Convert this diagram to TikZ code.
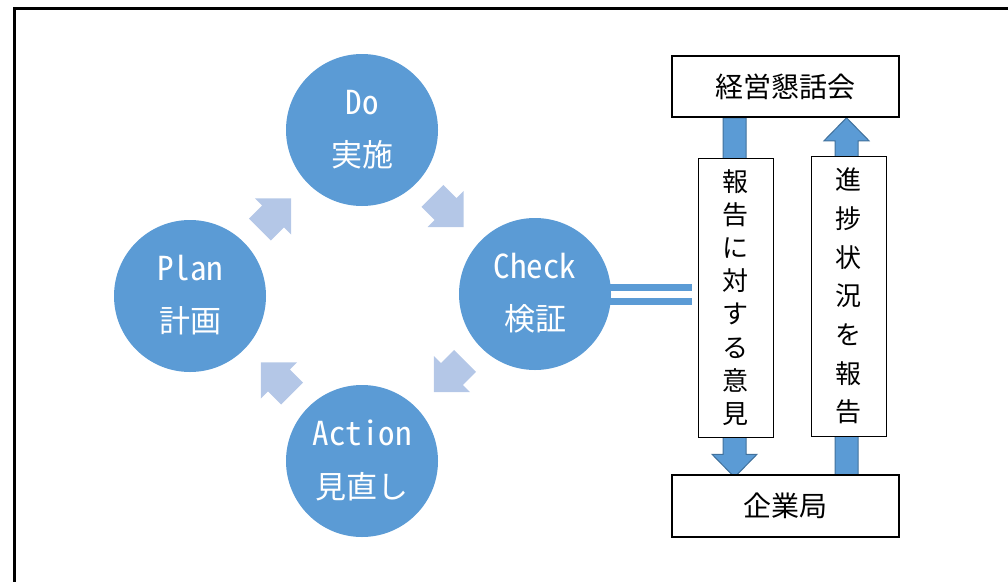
\documentclass[tikz,border=0pt]{standalone}
\usepackage{fontspec}
\setmainfont{Noto Sans CJK JP}
\newfontfamily\hw[RawFeature=+hwid]{Noto Sans CJK JP}
\usetikzlibrary{calc,backgrounds}
\definecolor{cb}{RGB}{91,155,213}
\definecolor{cl}{RGB}{180,199,231}
\definecolor{ce}{RGB}{65,113,156}
\begin{document}
\begin{tikzpicture}[x=1pt,y=-1pt,
  ph/.style={circle,fill=cb,minimum size=152pt,inner sep=0pt},
  lt/.style={text=white,font=\hw\fontsize{33}{33}\selectfont,anchor=base,inner sep=0pt},
  jp/.style={text=white,font=\fontsize{31}{31}\selectfont,anchor=base,inner sep=0pt},
  bx/.style={draw=black,line width=1.5pt,fill=white,minimum width=227pt,minimum height=61pt,inner sep=0pt,font=\fontsize{28}{28}\selectfont},
  vb/.style={draw=black,line width=1pt,fill=white,minimum width=75pt,minimum height=279pt,inner sep=0pt,align=center},
  fl/.style={fill=cb,draw=ce,line width=1pt},
  cyc/.pic={\fill[cl] (-22,-15.5) -- (-3.5,-15.5) -- (-3.5,-25.5) -- (22,0) -- (-3.5,25.5) -- (-3.5,15.5) -- (-22,15.5) -- cycle;}]
\useasboundingbox (0,0) rectangle (1008,581);
\draw[line width=2.5pt] (14.7,8.3) rectangle (1030,610);
% PDCA cycle
\node[ph] (do) at (362,130) {}; \node[lt] (do1) at ($(do.center)+(0,-16)$) {Do}; \node[jp] (do2) at ($(do.center)+(0,36)$) {実施};
\node[ph] (plan) at (190,296) {}; \node[lt] (plan1) at ($(plan.center)+(0,-16)$) {Plan}; \node[jp] (plan2) at ($(plan.center)+(0,36)$) {計画};
\node[ph] (check) at (535,294) {}; \node[lt] (check1) at ($(check.center)+(0,-16)$) {Check}; \node[jp] (check2) at ($(check.center)+(0,36)$) {検証};
\node[ph] (act) at (362,461) {}; \node[lt] (act1) at ($(act.center)+(0,-16)$) {Action}; \node[jp] (act2) at ($(act.center)+(0,37)$) {見直し};
\pic[rotate=45] at (275.5,214) {cyc};
\pic[rotate=-45] at (448,211.5) {cyc};
\pic[rotate=-135] at (449.5,376.5) {cyc};
\pic[rotate=135] at (276.5,378) {cyc};
% right side
\node[bx] (council) at (785.5,86.5) {経営懇話会};
\node[bx,minimum height=62pt] (office) at (785.5,506) {企業局};
\node[vb,font=\fontsize{26}{33.1}\selectfont] (reply) at (735.5,297.5) {報\\告\\に\\対\\す\\る\\意\\見};
\node[vb,font=\fontsize{26}{38.7}\selectfont,minimum height=280pt] (progress) at (848.5,296) {進\\捗\\状\\況\\を\\報\\告};
\coordinate (dn) at (734.5,0); \coordinate (up) at (846.5,0);
\path (council.south -| dn) coordinate (a1) (office.north -| dn) coordinate (a2)
      (office.north -| up) coordinate (b1) (council.south -| up) coordinate (b2);
\begin{scope}[on background layer]
\draw[cb,line width=7pt] ($(check.center)+(0,-7)$) -- ($(check.center -| reply.west)+(-6,-7)$);
\draw[cb,line width=7pt] ($(check.center)+(0,7.5)$) -- ($(check.center -| reply.west)+(-6,7.5)$);
\draw[fl] ($(a1)+(-11.5,0)$) -- ($(a2)+(-11.5,-20)$) -- ($(a2)+(-22.5,-20)$) -- ($(a2)+(0,3)$) -- ($(a2)+(22.5,-20)$) -- ($(a2)+(11.5,-20)$) -- ($(a1)+(11.5,0)$) -- cycle;
\draw[fl] ($(b1)+(-11.5,3)$) -- ($(b2)+(-11.5,23)$) -- ($(b2)+(-22.5,23)$) -- (b2) -- ($(b2)+(22.5,23)$) -- ($(b2)+(11.5,23)$) -- ($(b1)+(11.5,3)$) -- cycle;
\end{scope}
\end{tikzpicture}
\end{document}
